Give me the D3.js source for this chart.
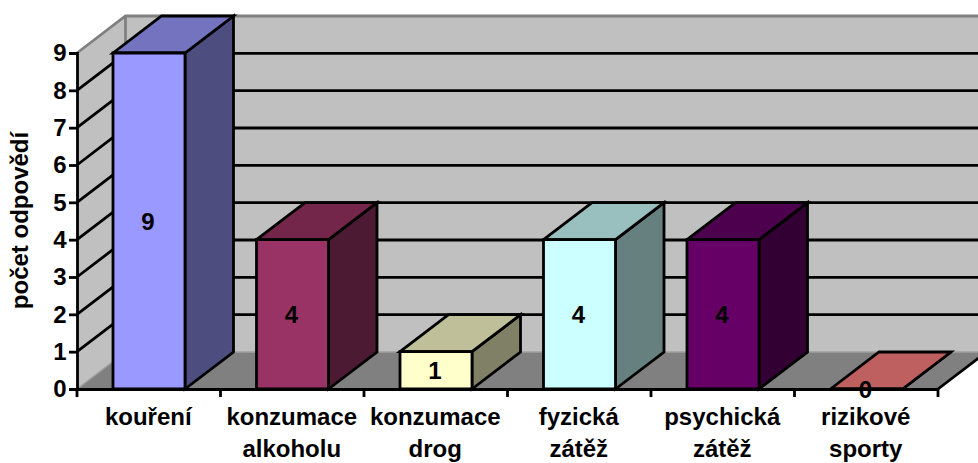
<!DOCTYPE html>
<html>
<head>
<meta charset="utf-8">
<script src="https://cdn.jsdelivr.net/npm/d3@7"></script>
<style>
html, body { margin: 0; padding: 0; background: #fff; }
svg { display: block; }
text { font-family: "Liberation Sans", Arial, sans-serif; font-weight: bold; fill: #000; }
</style>
</head>
<body>
<svg id="chart" width="978" height="463"></svg>
<script>
// Survey answers per risk behaviour
const categories = ["kouření", "konzumace alkoholu", "konzumace drog", "fyzická zátěž", "psychická zátěž", "rizikové sporty"];
const categoryLines = [["kouření"], ["konzumace", "alkoholu"], ["konzumace", "drog"], ["fyzická", "zátěž"], ["psychická", "zátěž"], ["rizikové", "sporty"]];
const answers = [9, 4, 1, 4, 4, 0];
const frontColors = ["#9999ff", "#993366", "#ffffcc", "#ccffff", "#660066", "#ff8080"];
const topColors = ["#7373bf", "#732649", "#bfbf99", "#99bfbf", "#4d004d", "#bf6060"];
const sideColors = ["#4d4d80", "#4d1a33", "#808066", "#668080", "#330033", "#804040"];
const yTicks = [0, 1, 2, 3, 4, 5, 6, 7, 8, 9];
const yTitle = "počet odpovědí";

const svg = d3.select("#chart");
const W = 978;
const fontSize = 24;
const strokeW = 2.8;

// Front plane of the oblique projection and the offset to the back plane
const x = d3.scaleBand().domain(categories).range([77, 938]).paddingInner(0).paddingOuter(0);
const y = d3.scaleLinear().domain([0, 9]).range([389, 53]);
const depthX = 48.5, depthY = -37;
const barInset = 36, barWidth = 72;
const line = d3.line();

// Walls and floor
const g = svg.append("g");
const [x0, x1] = x.range();
const [y0, y9] = y.range();
const wallFill = "#c0c0c0", edge = "#808080";
g.append("path")
  .attr("d", line([[x0, y9], [x0 + depthX, y9 + depthY], [x0 + depthX, y0 + depthY], [x0, y0]]) + "Z")
  .attr("fill", wallFill).attr("stroke", "none");
g.append("rect")
  .attr("x", x0 + depthX).attr("y", y9 + depthY)
  .attr("width", W - x0 - depthX + 20).attr("height", y0 - y9)
  .attr("fill", wallFill);
g.append("path")
  .attr("d", line([[x0, y0], [x1, y0], [x1 + depthX, y0 + depthY], [x0 + depthX, y0 + depthY]]) + "Z")
  .attr("fill", "#808080");

// Grey outline of the walls
g.append("path")
  .attr("d", line([[x0, y9], [x0 + depthX, y9 + depthY], [W + 20, y9 + depthY]]))
  .attr("fill", "none").attr("stroke", edge).attr("stroke-width", strokeW);
g.append("path")
  .attr("d", line([[x0 + depthX, y9 + depthY], [x0 + depthX, y0 + depthY]]))
  .attr("fill", "none").attr("stroke", edge).attr("stroke-width", strokeW);
g.append("path")
  .attr("d", line([[x0, y0], [x0 + depthX, y0 + depthY], [W + 20, y0 + depthY]]))
  .attr("fill", "none").attr("stroke", "#a0a0a0").attr("stroke-width", 1.5);

// Gridlines run along the side wall and across the back wall
yTicks.filter(v => v > 0 && v < 9).forEach(v => {
  g.append("path")
    .attr("d", line([[x0, y(v)], [x0 + depthX, y(v) + depthY], [W + 20, y(v) + depthY]]))
    .attr("fill", "none").attr("stroke", "#000").attr("stroke-width", strokeW);
});
g.append("path")
  .attr("d", line([[x1, y0], [x1 + depthX, y0 + depthY]]))
  .attr("fill", "none").attr("stroke", "#000").attr("stroke-width", strokeW);

// Bars: each one is a side face, a top face and a front face
const bars = g.selectAll("g.bar").data(categories).join("g").attr("class", "bar");
bars.each(function (c, i) {
  const left = x(c) + barInset, right = left + barWidth;
  const top = y(answers[i]), base = y(0);
  const b = d3.select(this);
  const faces = [
    [[[right, top], [right + depthX, top + depthY], [right + depthX, base + depthY], [right, base]], sideColors[i]],
    [[[left, top], [left + depthX, top + depthY], [right + depthX, top + depthY], [right, top]], topColors[i]],
    [[[left, top], [right, top], [right, base], [left, base]], frontColors[i]]
  ];
  faces.forEach(([pts, fill]) => {
    b.append("path").attr("d", line(pts) + "Z")
      .attr("fill", fill).attr("stroke", "#000")
      .attr("stroke-width", strokeW).attr("stroke-linejoin", "miter");
  });
});

// Axes
const yAxis = d3.axisLeft(y).tickValues(yTicks).tickSize(8).tickPadding(2.5).tickFormat(d3.format("d"));
const xAxis = d3.axisBottom(x).tickSize(0).tickFormat("");
const yAxisG = svg.append("g").attr("transform", `translate(${x0},0)`).call(yAxis);
const xAxisG = svg.append("g").attr("transform", `translate(0,${y0})`).call(xAxis);
yAxisG.selectAll("path, line").attr("stroke", "#000").attr("stroke-width", strokeW);
xAxisG.selectAll("path").attr("stroke", "#000").attr("stroke-width", strokeW);
yAxisG.selectAll("text").style("font-size", fontSize + "px").attr("fill", "#000");
yAxisG.attr("font-family", null).attr("font-size", null);
xAxisG.attr("font-family", null).attr("font-size", null);

// Category boundaries carry the bottom tick marks
svg.append("g").selectAll("line")
  .data(categories.map(c => x(c)).concat(x1))
  .join("line")
  .attr("x1", d => d).attr("x2", d => d)
  .attr("y1", y0).attr("y2", y0 + 8)
  .attr("stroke", "#000").attr("stroke-width", strokeW);

// Wrapped category labels
const labelGroup = svg.append("g").attr("text-anchor", "middle").style("font-size", fontSize + "px");
categories.forEach((c, i) => {
  categoryLines[i].forEach((t, k) => {
    labelGroup.append("text")
      .attr("x", x(c) + x.bandwidth() / 2 - 0.5)
      .attr("y", 425 + k * 32)
      .text(t);
  });
});

// Values centred on the bars' front faces
svg.append("g").attr("text-anchor", "middle").style("font-size", fontSize + "px")
  .selectAll("text").data(answers).join("text")
  .attr("x", (d, i) => x(categories[i]) + barInset + barWidth / 2 - 1)
  .attr("y", d => (y(d) + y(0)) / 2 + 8.5)
  .text(d => d);

// Value-axis title
svg.append("text")
  .attr("transform", "translate(28,220.5) rotate(-90)")
  .attr("text-anchor", "middle")
  .style("font-size", "24px")
  .text(yTitle);
</script>
</body>
</html>
